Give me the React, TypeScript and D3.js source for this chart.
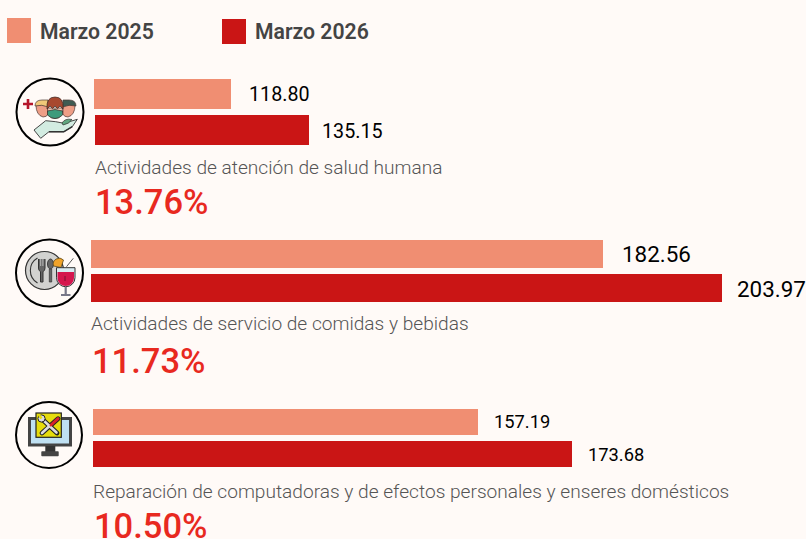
import React from "react";
import * as d3 from "d3";

const seriesNames = ["Marzo 2025", "Marzo 2026"];
const categories = [
  "Actividades de atención de salud humana",
  "Actividades de servicio de comidas y bebidas",
  "Reparación de computadoras y de efectos personales y enseres domésticos",
];
const values2025 = [118.8, 182.56, 157.19];
const values2026 = [135.15, 203.97, 173.68];
const changes = ["13.76%", "11.73%", "10.50%"];

const C25 = "#F08E72";
const C26 = "#CA1515";
const BG = "#FFFAF7";
const width = 806;
const height = 539;

// The reference's bars are not on one common linear scale, so the scale is piecewise.
const sortedValues = [...values2025, ...values2026].sort(d3.ascending);
const xScale = d3.scaleLinear().domain(sortedValues).range([137, 214, 385, 479, 512, 631]);

const layouts = [
  { x0: 94, x1: 95, y0: 79, y1: 115, h0: 30, h1: 30, valFs: 19.7, gap0: 18, gap1: 13, labelY: 174, labelX: 95, pctY: 214, pctX: 95, cx: 50, cy: 112, r: 33.5, shift: 1 },
  { x0: 91, x1: 91, y0: 240, y1: 274, h0: 28, h1: 28, valFs: 22.4, gap0: 19, gap1: 15, labelY: 330, labelX: 91, pctY: 373, pctX: 92, cx: 49.5, cy: 273, r: 33.5, shift: 0 },
  { x0: 93, x1: 93, y0: 409, y1: 441, h0: 26, h1: 26, valFs: 18.3, gap0: 16, gap1: 16, labelY: 498, labelX: 93, pctY: 538, pctX: 94, cx: 49, cy: 435, r: 33, shift: 0 },
];

const HealthIcon = () => (
  <g strokeLinejoin="round">
    <path d="M-27,-8h10M-22,-13v10" stroke="#B5162B" strokeWidth={2.6} fill="none" />
    <path d="M-14,-7Q-14,3 -7,5Q-3,5 -2,2V-7Z" fill="#EE9E86" stroke="#4a3a35" strokeWidth={0.7} />
    <path d="M-15,-6Q-15,-12 -8,-12H-2V-5Q-8,-8 -15,-6Z" fill="#F0C878" stroke="#4a3a35" strokeWidth={0.7} />
    <path d="M13,-7V2Q14,5 18,5Q25,3 25,-7Z" fill="#EE9E86" stroke="#4a3a35" strokeWidth={0.7} />
    <path d="M13,-5V-12H19Q26,-12 26,-6Q19,-8 13,-5Z" fill="#3F5B52" stroke="#4a3a35" strokeWidth={0.7} />
    <path d="M-2.5,-4Q-2.5,6.5 5,6.5Q12.5,6.5 12.5,-4Z" fill="#F6C7B4" stroke="#3a2a25" strokeWidth={0.7} />
    <path d="M-3,-3Q-4,-15 5,-15Q14,-15 13,-3L10,-6L7.5,-3.5L5,-6L2.5,-3.5L0,-6Z" fill="#A8482F" stroke="#3a2a25" strokeWidth={0.7} />
    <path d="M-2.5,-1L5,-2.5L12.5,-1V3Q9,6.5 5,6.5Q1,6.5 -2.5,3Z" fill="#3E9B7C" stroke="#3a2a25" strokeWidth={0.7} />
    <path d="M-16,18L-4.3,8.7L5.7,9.7L14,11.3L27.3,7.3L22.3,14.7L14,19.7L-1,19.7L-9.3,26.3Z" fill="#D3ECE1" stroke="#333" strokeWidth={0.9} />
    <path d="M-1,19.7L14,19.7L22.3,14.7" fill="none" stroke="#333" strokeWidth={1.4} />
    <path d="M12,11Q15,6 22,7.5Q19,12 13,13Z" fill="#5FA77F" stroke="#333" strokeWidth={0.7} />
  </g>
);

const FoodIcon = () => (
  <g strokeLinejoin="round">
    <circle cx={-5} cy={-2.5} r={19} fill="#D2D2D0" stroke="#333" strokeWidth={1.2} />
    <path d="M-12,-15A14.5,14.5 0 0 0 -12,10" fill="none" stroke="#333" strokeWidth={1.1} />
    <path d="M-11,-14v9q0,3 2,3.5v10.5h2.5v-10.5q2,-0.5 2,-3.5v-9" fill="#666" stroke="#333" strokeWidth={1} />
    <path d="M-8.8,-14v7M-6.6,-14v7" stroke="#D2D2D0" strokeWidth={0.8} />
    <ellipse cx={1} cy={-9} rx={3} ry={5} fill="#666" stroke="#333" strokeWidth={0.9} />
    <rect x={-0.2} y={-4} width={2.4} height={13} fill="#666" stroke="#333" strokeWidth={0.7} />
    <path d="M4,-7A6,6 0 0 1 14,-13L11.5,-5.5Z" fill="#F0A32A" stroke="#5a4a20" strokeWidth={0.8} />
    <path d="M17,-6.3L23.8,-14.7" stroke="#555" strokeWidth={1} />
    <path d="M7,-5.3h18.5v10a9.2,9 0 0 1 -18.5,0z" fill="#D9EBF2" stroke="#333" strokeWidth={1} />
    <path d="M8,-1h16.5v6a8.2,8 0 0 1 -16.5,0z" fill="#D5154D" />
    <path d="M15.5,3v5" stroke="#7a1030" strokeWidth={1} />
    <path d="M16.2,14v7" stroke="#778" strokeWidth={2.2} fill="none" />
    <path d="M11.5,22h9.5" stroke="#778" strokeWidth={2} fill="none" />
  </g>
);

const RepairIcon = () => (
  <g>
    <rect x={-19.5} y={-16.5} width={41} height={26.5} fill="#BFE0F2" stroke="#444" strokeWidth={3} />
    <rect x={-3.7} y={11} width={10} height={7} fill="#333" />
    <rect x={-7.7} y={16.3} width={17.4} height={5} rx={0.8} fill="#444" />
    <rect x={-13} y={-22} width={25.3} height={24.3} fill="#E6DC0C" stroke="#222" strokeWidth={1.2} />
    <path d="M-7,-16L8,-2" stroke="#222" strokeWidth={4.8} strokeLinecap="round" />
    <path d="M9,-16.3L-7,-2" stroke="#222" strokeWidth={4.8} strokeLinecap="round" />
    <path d="M-6,-15L7.5,-2.5" stroke="#DDD" strokeWidth={2.6} strokeLinecap="round" />
    <path d="M1,-9.5L-7,-2" stroke="#DDD" strokeWidth={2.6} strokeLinecap="round" />
    <path d="M9,-16.3L2,-10" stroke="#D9232A" strokeWidth={3} strokeLinecap="round" />
    <circle cx={-7.5} cy={-16.5} r={3.6} fill="#DDD" stroke="#222" strokeWidth={1} />
    <path d="M-10,-20L-7.5,-16.5" stroke="#E6DC0C" strokeWidth={2.4} />
  </g>
);

const icons = [HealthIcon, FoodIcon, RepairIcon];

export default function App() {
  return (
    <svg
      width={width}
      height={height}
      viewBox={`0 0 ${width} ${height}`}
      style={{ position: "absolute", left: 0, top: 0, background: BG, fontFamily: "Roboto" }}
    >
      <rect x={7} y={18} width={24} height={25} fill={C25} />
      <text x={40} y={39} fontSize={21.2} fontWeight={600} fill="#444">{seriesNames[0]}</text>
      <rect x={222} y={19} width={24} height={25} fill={C26} />
      <text x={255} y={39} fontSize={21.2} fontWeight={600} fill="#444">{seriesNames[1]}</text>
      {categories.map((cat, i) => {
        const l = layouts[i];
        const Icon = icons[i];
        const w0 = xScale(values2025[i]);
        const w1 = xScale(values2026[i]);
        return (
          <g key={cat}>
            <circle cx={l.cx} cy={l.cy} r={l.r} fill={BG} stroke="#000" strokeWidth={2} />
            <g transform={`translate(${l.cx},${l.cy})`}><Icon /></g>
            <rect x={l.x0} y={l.y0} width={w0} height={l.h0} fill={C25} />
            <rect x={l.x1} y={l.y1} width={w1} height={l.h1} fill={C26} />
            <text x={l.x0 + w0 + l.gap0} y={l.y0 + l.h0 / 2} dy="0.35em" fontSize={l.valFs} fill="#000">{d3.format(".2f")(values2025[i])}</text>
            <text x={l.x1 + w1 + l.gap1} y={l.y1 + l.h1 / 2 + l.shift} dy="0.38em" fontSize={l.valFs} fill="#000">{d3.format(".2f")(values2026[i])}</text>
            <text x={l.labelX} y={l.labelY} fontSize={19.13} fontWeight={300} fill="#555">{cat}</text>
            <text x={l.pctX} y={l.pctY} fontSize={34.5} fontWeight={500} fill="#E8291F">{changes[i]}</text>
          </g>
        );
      })}
    </svg>
  );
}
